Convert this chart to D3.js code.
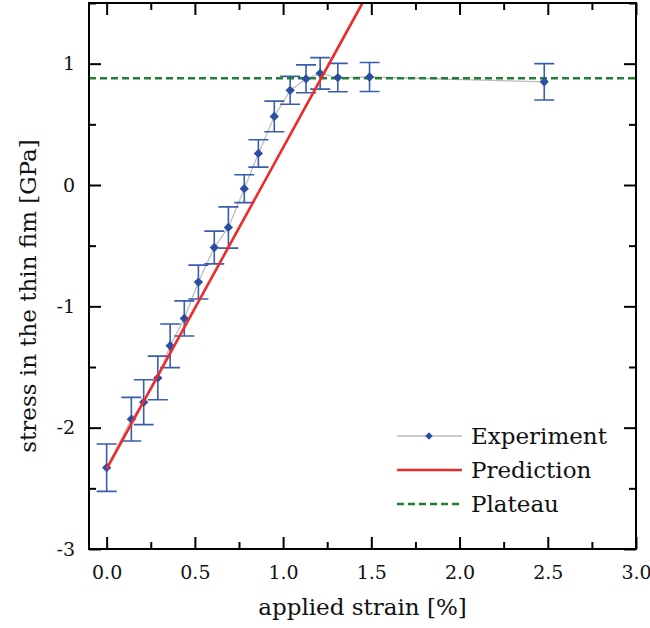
<!DOCTYPE html>
<html>
<head>
<meta charset="utf-8">
<script src="https://cdn.jsdelivr.net/npm/d3@7"></script>
<style>
  body { margin: 0; background: #fff; }
  text { font-family: "DejaVu Serif", serif; fill: #111; }
</style>
</head>
<body>
<div id="chart"></div>
<script>
const strain = [0, 0.14, 0.21, 0.29, 0.36, 0.44, 0.52, 0.61, 0.69, 0.78, 0.86, 0.95, 1.04, 1.13, 1.21, 1.31, 1.49, 2.48];
const stress = [-2.33, -1.93, -1.79, -1.59, -1.325, -1.10, -0.80, -0.515, -0.35, -0.03, 0.26, 0.565, 0.78, 0.875, 0.92, 0.885, 0.89, 0.85];
const stressErr = [0.195, 0.18, 0.185, 0.18, 0.18, 0.145, 0.14, 0.135, 0.17, 0.115, 0.113, 0.126, 0.115, 0.115, 0.13, 0.117, 0.12, 0.15];
const predictionX = [0, 1.45];
const predictionY = [-2.34, 1.5];
const plateauValue = 0.88;
const xTicks = [0, 0.5, 1.0, 1.5, 2.0, 2.5, 3.0];
const yTicks = [-3, -2, -1, 0, 1];
const legendLabels = ["Experiment", "Prediction", "Plateau"];

const W = 650, H = 628;
const margin = {left: 89, right: 14, top: 3, bottom: 79};
const width = W - margin.left - margin.right;
const height = H - margin.top - margin.bottom;

const svg = d3.select("#chart").append("svg")
  .attr("width", W)
  .attr("height", H);
const g = svg.append("g").attr("transform", `translate(${margin.left},${margin.top})`);

const x = d3.scaleLinear().domain([-0.1, 3.0]).range([0, width]);
const y = d3.scaleLinear().domain([-3, 1.5]).range([height, 0]);

const xMinor = d3.range(0, 3.01, 0.25).filter(v => Math.abs(v * 2 - Math.round(v * 2)) > 1e-6);
const yMinor = d3.range(-2.5, 1.51, 1);

function styleAxis(sel) {
  sel.select(".domain").remove();
  sel.selectAll("line").attr("stroke", "#000").attr("stroke-width", 2);
  sel.selectAll("text").style("font-size", "19px").style("font-family", "DejaVu Serif");
}

// bottom
g.append("g").attr("transform", `translate(0,${height})`)
  .call(d3.axisBottom(x).tickValues(xTicks).tickSizeInner(-12).tickSizeOuter(0).tickPadding(17).tickFormat(d => d.toFixed(1)))
  .call(styleAxis);
g.append("g").attr("transform", `translate(0,${height})`)
  .call(d3.axisBottom(x).tickValues(xMinor).tickSizeInner(-7).tickSizeOuter(0).tickFormat(""))
  .call(styleAxis);
// top
g.append("g")
  .call(d3.axisTop(x).tickValues(xTicks).tickSizeInner(-12).tickSizeOuter(0).tickFormat(""))
  .call(styleAxis);
g.append("g")
  .call(d3.axisTop(x).tickValues(xMinor).tickSizeInner(-7).tickSizeOuter(0).tickFormat(""))
  .call(styleAxis);
// left
g.append("g")
  .call(d3.axisLeft(y).tickValues(yTicks).tickSizeInner(-12).tickSizeOuter(0).tickPadding(14).tickFormat(d => String(d)))
  .call(styleAxis);
g.append("g")
  .call(d3.axisLeft(y).tickValues(yMinor).tickSizeInner(-7).tickSizeOuter(0).tickFormat(""))
  .call(styleAxis);
// right
g.append("g").attr("transform", `translate(${width},0)`)
  .call(d3.axisRight(y).tickValues(yTicks).tickSizeInner(-12).tickSizeOuter(0).tickFormat(""))
  .call(styleAxis);
g.append("g").attr("transform", `translate(${width},0)`)
  .call(d3.axisRight(y).tickValues(yMinor).tickSizeInner(-7).tickSizeOuter(0).tickFormat(""))
  .call(styleAxis);

const pts = strain.map((s, i) => ({x: s, y: stress[i], e: stressErr[i]}));

// experiment connecting line
g.append("path")
  .datum(pts)
  .attr("fill", "none")
  .attr("stroke", "#bdbdbd")
  .attr("stroke-width", 1.3)
  .attr("d", d3.line().x(d => x(d.x)).y(d => y(d.y)));

// error bars
const errColor = "#3a5cae";
const cap = 10;
const eb = g.append("g").attr("stroke", errColor).attr("stroke-width", 1.6).attr("fill", "none");
eb.selectAll("path")
  .data(pts)
  .join("path")
  .attr("d", d => {
    const cx = x(d.x), t = y(d.y + d.e), b = y(d.y - d.e);
    return `M${cx},${t}V${b}M${cx - cap},${t}H${cx + cap}M${cx - cap},${b}H${cx + cap}`;
  });

// plateau
g.append("line")
  .attr("x1", x.range()[0]).attr("x2", x.range()[1])
  .attr("y1", y(plateauValue)).attr("y2", y(plateauValue))
  .attr("stroke", "#1f8036")
  .attr("stroke-width", 2.5)
  .attr("stroke-dasharray", "7,4");

// markers
const diamond = d3.symbol().type(d3.symbolDiamond2).size(55);
g.selectAll(".marker")
  .data(pts)
  .join("path")
  .attr("class", "marker")
  .attr("transform", d => `translate(${x(d.x)},${y(d.y)})`)
  .attr("d", diamond)
  .attr("fill", "#2b4ea2");

// prediction
g.append("path")
  .datum(predictionX.map((v, i) => [v, predictionY[i]]))
  .attr("fill", "none")
  .attr("stroke", "#ee2a2a")
  .attr("stroke-width", 2.6)
  .attr("d", d3.line().x(d => x(d[0])).y(d => y(d[1])));

// frame
g.append("rect")
  .attr("x", 0).attr("y", 0)
  .attr("width", width).attr("height", height)
  .attr("fill", "none")
  .attr("stroke", "#000")
  .attr("stroke-width", 2);

// axis labels
svg.append("text")
  .attr("x", margin.left + width / 2)
  .attr("y", 615)
  .attr("text-anchor", "middle")
  .style("font-size", "23px")
  .text("applied strain [%]");
svg.append("text")
  .attr("transform", "translate(36,296) rotate(-90)")
  .attr("text-anchor", "middle")
  .style("font-size", "23px")
  .text("stress in the thin fim [GPa]");

// legend
const lg = svg.append("g");
const lx0 = 397, lx1 = 462, ly = [436, 470, 504];
lg.append("line").attr("x1", lx0).attr("x2", lx1).attr("y1", ly[0]).attr("y2", ly[0])
  .attr("stroke", "#bdbdbd").attr("stroke-width", 1.3);
lg.append("path").attr("transform", `translate(${(lx0 + lx1) / 2 - 0.5},${ly[0]})`)
  .attr("d", d3.symbol().type(d3.symbolDiamond2).size(36)).attr("fill", "#2b4ea2");
lg.append("line").attr("x1", lx0).attr("x2", lx1).attr("y1", ly[1]).attr("y2", ly[1])
  .attr("stroke", "#ee2a2a").attr("stroke-width", 2.6);
lg.append("line").attr("x1", lx0).attr("x2", lx1).attr("y1", ly[2]).attr("y2", ly[2])
  .attr("stroke", "#1f8036").attr("stroke-width", 2.5).attr("stroke-dasharray", "7,4");
lg.selectAll("text.leg")
  .data(legendLabels)
  .join("text")
  .attr("class", "leg")
  .attr("x", 471)
  .attr("y", (d, i) => ly[i] + 8)
  .style("font-size", "23px")
  .text(d => d);
</script>
</body>
</html>
